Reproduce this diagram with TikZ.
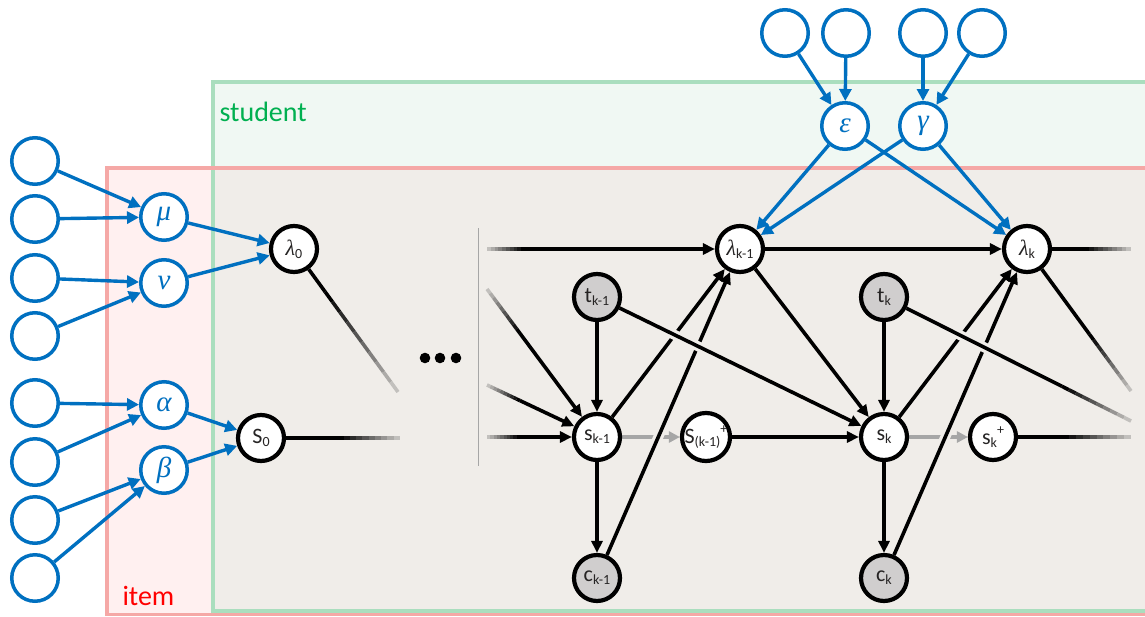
\documentclass[tikz,border=0pt]{standalone}
\usepackage{fontspec}
\setmainfont{Carlito}
\newfontfamily\grk{Liberation Serif}
\usetikzlibrary{arrows.meta,calc}
\definecolor{bgc}{RGB}{240,237,233}
\definecolor{pinkf}{RGB}{255,240,240}
\definecolor{greenf}{RGB}{240,248,243}
\definecolor{greenb}{RGB}{170,222,190}
\definecolor{redb}{RGB}{245,168,166}
\definecolor{blueo}{RGB}{0,112,192}
\definecolor{txtc}{RGB}{38,36,36}
\definecolor{obsc}{RGB}{208,206,206}
\definecolor{grayc}{RGB}{166,166,166}
\definecolor{stgreen}{RGB}{0,176,80}
\definecolor{itred}{RGB}{255,0,0}
\pgfdeclarelayer{bglayer}
\pgfdeclarelayer{edges}
\pgfsetlayers{bglayer,edges,main}
\newcommand\sbs[1]{\raisebox{-0.3ex}{\fontsize{14}{15}\selectfont #1}}
\newcommand\sps[1]{\raisebox{0.9ex}{\fontsize{14}{15}\selectfont #1}}
\newcommand\lam{{\grk\itshape λ}}
\newcommand\fadeout[4][]{%
  \draw[kedge,#1] (#2) -- ($(#2)!#4!(#3)$);
  \foreach \i in {0,...,9}{
    \pgfmathsetmacro\fa{#4+(1-#4)*\i/10}
    \pgfmathsetmacro\fb{#4+(1-#4)*(\i+1)/10}
    \pgfmathsetmacro\fc{100-\i*9}
    \draw[line width=3.6pt, draw=black!\fc!bgc] ($(#2)!\fa!(#3)$) -- ($(#2)!\fb!(#3)$);
  }}
\newcommand\fadein[3]{%
  \foreach \i in {0,...,9}{
    \pgfmathsetmacro\fa{#3*\i/10}
    \pgfmathsetmacro\fb{#3*(\i+1)/10}
    \pgfmathsetmacro\fc{19+\i*9}
    \draw[line width=3.6pt, draw=black!\fc!bgc] ($(#1)!\fa!(#2)$) -- ($(#1)!\fb!(#2)$);
  }
  \draw[karr] ($(#1)!#3!(#2)$) -- (#2);}
\tikzset{
  bnode/.style={circle, draw=blueo, line width=3.5pt, fill=white, minimum size=46.5pt, inner sep=0pt, text=blueo, font=\grk\itshape\fontsize{29}{31}\selectfont},
  knode/.style={circle, draw=black, line width=4.2pt, fill=white, minimum size=46pt, inner sep=0pt, text=txtc, font=\fontsize{22}{24}\selectfont},
  obs/.style={knode, fill=obsc},
  bedge/.style={draw=blueo, line width=3.4pt, -{Triangle[length=12pt,width=12pt]}},
  kedge/.style={draw=black, line width=3.6pt},
  karr/.style={kedge, -{Triangle[length=12pt,width=11pt]}},
  garr/.style={draw=grayc, line width=4pt, -{Triangle[length=11pt,width=11pt]}},
  cutter/.style={preaction={draw=bgc, line width=10pt, -, shorten <=15pt, shorten >=28pt}}
}
\begin{document}
\begin{tikzpicture}[x=1pt,y=-1pt]
\useasboundingbox (0,0) rectangle (1145,616);
\begin{pgfonlayer}{bglayer}
\fill[pinkf] (107,168) rectangle (1160,614.5);
\fill[greenf] (213,82) rectangle (1160,611);
\fill[bgc] (213,168) rectangle (1160,611);
\draw[greenb, line width=3.2pt] (213,82) rectangle (1160,611);
\draw[redb, line width=3.2pt] (107,168) rectangle (1160,614.5);
\end{pgfonlayer}
\node[anchor=base west, text=stgreen, font=\fontsize{28}{30}\selectfont] (stl) at (216,121) {student};
\node[anchor=base west, text=itred, font=\fontsize{28}{30}\selectfont] (itl) at (119,605) {item};
% blue hyper nodes
\foreach \n/\y in {b1/161,b2/219,b3/278,b4/336,b5/403,b6/462,b7/520,b8/578}
  \node[bnode] (\n) at (35,\y) {};
\foreach \n/\x in {u1/785,u2/846,u3/923,u4/982}
  \node[bnode] (\n) at (\x,33) {};
\node[bnode] (mu) at (164,217) {μ};
\node[bnode] (nu) at (164,283) {ν};
\node[bnode] (al) at (164,405) {α};
\node[bnode] (be) at (164,470) {β};
\node[bnode] (eps) at (845,126) {ε};
\node[bnode] (gam) at (923,126) {γ};
% model nodes
\node[knode] (lam0) at (294,249) {\lam\sbs{0}};
\node[knode] (s0) at (261,438) {S\sbs{0}};
\node[obs] (tk1) at (597,297) {t\sbs{k-1}};
\node[knode] (sk1) at (597,437) {s\sbs{k-1}};
\node[knode] (skp1) at (706,437) {S\sbs{(k-1)}\sps{+}};
\node[knode] (lamk1) at (740,249) {\lam\sbs{k-1}};
\node[obs] (ck1) at (597,578) {c\sbs{k-1}};
\node[obs] (tk) at (884,297) {t\sbs{k}};
\node[knode] (sk) at (884,437) {s\sbs{k}};
\node[knode] (skp) at (993,437) {s\sbs{k}\sps{+}};
\node[knode] (lamk) at (1027,249) {\lam\sbs{k}};
\node[obs] (ck) at (884,578) {c\sbs{k}};
% dots
\foreach \x in {425,440,456} \fill[black] (\x,358) circle (5.3pt);
\coordinate (vt) at (478,228);
\coordinate (vb) at (478,466);
\begin{pgfonlayer}{edges}
\draw[grayc, line width=1pt] (vt) -- (vb);
% blue edges
\draw[bedge] (b1) -- (mu);
\draw[bedge] (b2) -- (mu);
\draw[bedge] (b3) -- (nu);
\draw[bedge] (b4) -- (nu);
\draw[bedge] (b5) -- (al);
\draw[bedge] (b6) -- (al);
\draw[bedge] (b7) -- (be);
\draw[bedge] (b8) -- (be);
\draw[bedge] (mu) -- (lam0);
\draw[bedge] (nu) -- (lam0);
\draw[bedge] (al) -- (s0);
\draw[bedge] (be) -- (s0);
\draw[bedge] (u1) -- (eps);
\draw[bedge] (u2) -- (eps);
\draw[bedge] (u3) -- (gam);
\draw[bedge] (u4) -- (gam);
\draw[bedge] (eps) -- (lamk1);
\draw[bedge] (gam) -- (lamk1);
\draw[bedge] (eps) -- (lamk);
\draw[bedge] (gam) -- (lamk);
% fading ends on the left part
\fadeout{lam0}{398,392}{0.3}
\fadeout{s0}{400,438}{0.55}
% grey transitions
\draw[garr] (sk1) -- (skp1);
\draw[garr] (sk) -- (skp);
% incoming from the left
\fadein{487,249}{lamk1}{0.15}
\fadein{487,289}{sk1}{0.3}
\fadein{487,385}{sk1}{0.3}
\fadein{487,437}{sk1}{0.3}
% step k-1
\draw[karr] (tk1) -- (sk1);
\draw[karr] (sk1) -- (ck1);
\draw[karr, cutter] (ck1) -- (lamk1);
\draw[karr] (sk1) -- (lamk1);
\draw[karr] (skp1) -- (sk);
\draw[karr] (lamk1) -- (lamk);
\draw[karr] (lamk1) -- (sk);
\draw[karr, preaction={draw=bgc, line width=10pt, -, shorten <=10pt, shorten >=30pt}] (tk1) -- (sk);
% step k
\draw[karr] (tk) -- (sk);
\draw[karr] (sk) -- (ck);
\draw[karr, cutter] (ck) -- (lamk);
\draw[karr] (sk) -- (lamk);
\fadeout{lamk}{1131,249}{0.55}
\fadeout{lamk}{1131,391}{0.6}
\fadeout[preaction={draw=bgc, line width=10pt, shorten <=10pt}]{tk}{1131,421}{0.72}
\fadeout{skp}{1131,437}{0.5}
\end{pgfonlayer}
\end{tikzpicture}
\end{document}
